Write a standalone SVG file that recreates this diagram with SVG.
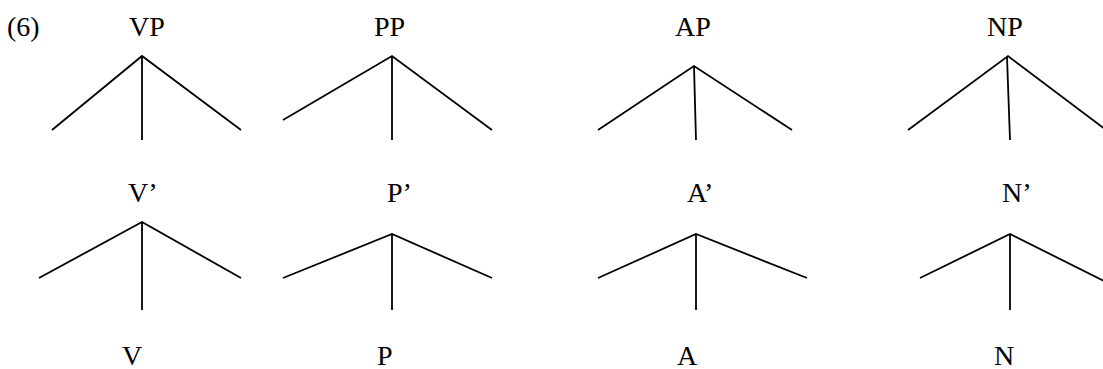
<svg xmlns="http://www.w3.org/2000/svg" width="1103" height="369" viewBox="0 0 1103 369">
<style>
text{font-family:"Liberation Serif","Times New Roman",serif;font-size:28px;fill:#000}
.e{stroke:#000;stroke-width:1.8;fill:none}
</style>
<rect width="1103" height="369" fill="#fff"/>
<text id="num" x="7" y="36">(6)</text>
<g id="VP"><text x="129" y="36">VP</text></g>
<g id="PP"><text x="374" y="36">PP</text></g>
<g id="AP"><text x="675" y="36">AP</text></g>
<g id="NP"><text x="987" y="36">NP</text></g>
<g id="Vbar"><text x="128" y="202">V’</text></g>
<g id="Pbar"><text x="387" y="202">P’</text></g>
<g id="Abar"><text x="687" y="202">A’</text></g>
<g id="Nbar"><text x="1002" y="202">N’</text></g>
<g id="V"><text x="122" y="365">V</text></g>
<g id="P"><text x="377" y="365">P</text></g>
<g id="A"><text x="677" y="365">A</text></g>
<g id="N"><text x="994" y="365">N</text></g>
<g id="connectors" class="e">
<path d="M52 130L142 56L241 130M142 56V140"/>
<path d="M283 120L392 56L492 130M392 56V140"/>
<path d="M598 130L694 66L792 130M694 66L696 140"/>
<path d="M908 130L1008 56L1106 130M1007 57L1010 140"/>
<path d="M39 278L142 222L241 278M142 222V310"/>
<path d="M283 278L392 234L492 278M392 234V310"/>
<path d="M598 278L696 234L807 278M696 234V310"/>
<path d="M920 278L1010 234L1110 284M1010 234V310"/>
</g>
</svg>
